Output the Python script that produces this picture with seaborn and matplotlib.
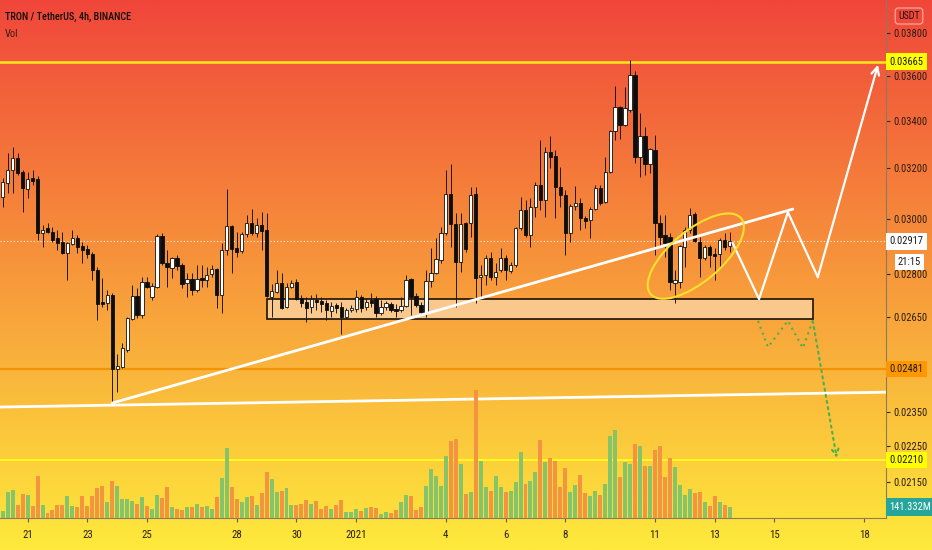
import numpy as np
import pandas as pd
import matplotlib
matplotlib.use("Agg")
import matplotlib.pyplot as plt
import seaborn as sns
from matplotlib import font_manager as fm
from matplotlib.patches import Ellipse, Rectangle
from matplotlib.transforms import ScaledTranslation
from matplotlib.ticker import NullLocator, NullFormatter

# ---------------- data (TRX/USDT, 4h candles) ----------------
start_time = "2020-12-20 04:00"

open_ = [0.03086, 0.03141, 0.03194, 0.03242, 0.03186, 0.03117, 0.03161, 0.03157, 0.02948, 0.02967,
         0.02951, 0.02929, 0.02915, 0.02874, 0.02907, 0.02929, 0.02900, 0.02889, 0.02871, 0.02813,
         0.02701, 0.02698, 0.02725, 0.02480, 0.02487, 0.02541, 0.02643, 0.02722, 0.02656, 0.02770,
         0.02718, 0.02753, 0.02937, 0.02838, 0.02820, 0.02856, 0.02831, 0.02767, 0.02781, 0.02742,
         0.02784, 0.02777, 0.02799, 0.02817, 0.02725, 0.02885, 0.02974, 0.02892, 0.02882, 0.02944,
         0.02986, 0.02948, 0.02978, 0.02959, 0.02718, 0.02735, 0.02767, 0.02684, 0.02753, 0.02770,
         0.02715, 0.02701, 0.02684, 0.02708, 0.02704, 0.02698, 0.02670, 0.02691, 0.02684, 0.02650,
         0.02673, 0.02677, 0.02718, 0.02684, 0.02708, 0.02711, 0.02663, 0.02684, 0.02694, 0.02677,
         0.02673, 0.02687, 0.02781, 0.02722, 0.02691, 0.02663, 0.02774, 0.02802, 0.02849, 0.02948,
         0.03097, 0.02982, 0.02842, 0.02986, 0.02986, 0.03097, 0.02788, 0.02795, 0.02856, 0.02788,
         0.02813, 0.02856, 0.02809, 0.02831, 0.02967, 0.03035, 0.02940, 0.03047, 0.03133, 0.03074,
         0.03268, 0.03251, 0.03125, 0.03094, 0.02948, 0.03051, 0.03063, 0.03005, 0.02997, 0.03039,
         0.03121, 0.03067, 0.03186, 0.03356, 0.03459, 0.03381, 0.03446, 0.03603, 0.03247, 0.03334,
         0.03218, 0.03276, 0.02986, 0.02940, 0.02933, 0.02767, 0.02770, 0.02896, 0.02959, 0.03020,
         0.02915, 0.02856, 0.02896, 0.02871, 0.02871, 0.02922, 0.02900]

high = [0.03161, 0.03263, 0.03288, 0.03263, 0.03194, 0.03186, 0.03194, 0.03169, 0.02978, 0.02986,
        0.02970, 0.02959, 0.02951, 0.02915, 0.02959, 0.02940, 0.02915, 0.02903, 0.02878, 0.02824,
        0.02784, 0.02742, 0.02732, 0.02528, 0.02564, 0.02650, 0.02760, 0.02749, 0.02788, 0.02788,
        0.02767, 0.02944, 0.02948, 0.02885, 0.02860, 0.02867, 0.02838, 0.02802, 0.02802, 0.02831,
        0.02831, 0.02824, 0.02831, 0.02820, 0.02911, 0.03117, 0.02978, 0.02951, 0.02951, 0.03016,
        0.03039, 0.03005, 0.03027, 0.03024, 0.02763, 0.02813, 0.02802, 0.02767, 0.02777, 0.02781,
        0.02725, 0.02718, 0.02725, 0.02728, 0.02718, 0.02708, 0.02701, 0.02698, 0.02701, 0.02680,
        0.02691, 0.02742, 0.02725, 0.02715, 0.02732, 0.02722, 0.02708, 0.02704, 0.02701, 0.02694,
        0.02718, 0.02795, 0.02784, 0.02732, 0.02701, 0.02813, 0.02892, 0.02929, 0.02970, 0.03194,
        0.03218, 0.03024, 0.03024, 0.02990, 0.03125, 0.03125, 0.02831, 0.02867, 0.02878, 0.02838,
        0.02892, 0.02867, 0.02842, 0.02970, 0.03086, 0.03074, 0.03082, 0.03145, 0.03317, 0.03288,
        0.03334, 0.03276, 0.03206, 0.03113, 0.03059, 0.03129, 0.03082, 0.03013, 0.03047, 0.03133,
        0.03133, 0.03247, 0.03360, 0.03553, 0.03464, 0.03549, 0.03672, 0.03621, 0.03433, 0.03373,
        0.03284, 0.03338, 0.03016, 0.03016, 0.02948, 0.02813, 0.02903, 0.02970, 0.03043, 0.03027,
        0.02933, 0.02903, 0.02903, 0.02892, 0.02929, 0.02948, 0.02951]

low = [0.03047, 0.03101, 0.03101, 0.03174, 0.03027, 0.03082, 0.03133, 0.02922, 0.02896, 0.02948,
       0.02915, 0.02885, 0.02870, 0.02777, 0.02903, 0.02874, 0.02838, 0.02856, 0.02777, 0.02640,
       0.02684, 0.02673, 0.02376, 0.02409, 0.02484, 0.02535, 0.02640, 0.02647, 0.02647, 0.02749,
       0.02708, 0.02749, 0.02831, 0.02753, 0.02784, 0.02813, 0.02749, 0.02718, 0.02725, 0.02735,
       0.02753, 0.02753, 0.02788, 0.02680, 0.02663, 0.02867, 0.02802, 0.02860, 0.02874, 0.02933,
       0.02940, 0.02933, 0.02885, 0.02718, 0.02650, 0.02732, 0.02677, 0.02680, 0.02749, 0.02708,
       0.02684, 0.02633, 0.02663, 0.02673, 0.02666, 0.02640, 0.02650, 0.02663, 0.02593, 0.02647,
       0.02666, 0.02666, 0.02666, 0.02673, 0.02684, 0.02650, 0.02656, 0.02673, 0.02666, 0.02650,
       0.02666, 0.02684, 0.02656, 0.02684, 0.02663, 0.02650, 0.02753, 0.02799, 0.02838, 0.02940,
       0.02896, 0.02684, 0.02806, 0.02878, 0.02933, 0.02698, 0.02718, 0.02760, 0.02777, 0.02760,
       0.02806, 0.02777, 0.02802, 0.02824, 0.02959, 0.02933, 0.02896, 0.03009, 0.03035, 0.03009,
       0.03202, 0.03005, 0.03047, 0.02867, 0.02915, 0.03035, 0.02959, 0.02967, 0.02929, 0.03035,
       0.03055, 0.03063, 0.03182, 0.03317, 0.03321, 0.03378, 0.03437, 0.03222, 0.03165, 0.03174,
       0.03182, 0.02867, 0.02896, 0.02860, 0.02742, 0.02698, 0.02749, 0.02824, 0.02948, 0.02915,
       0.02788, 0.02849, 0.02824, 0.02777, 0.02824, 0.02885, 0.02878]

close = [0.03145, 0.03194, 0.03242, 0.03182, 0.03121, 0.03157, 0.03149, 0.02948, 0.02959, 0.02951,
         0.02922, 0.02911, 0.02874, 0.02911, 0.02929, 0.02896, 0.02885, 0.02871, 0.02813, 0.02694,
         0.02694, 0.02725, 0.02480, 0.02490, 0.02548, 0.02647, 0.02722, 0.02656, 0.02770, 0.02753,
         0.02756, 0.02937, 0.02838, 0.02824, 0.02856, 0.02827, 0.02763, 0.02781, 0.02742, 0.02781,
         0.02777, 0.02795, 0.02817, 0.02725, 0.02885, 0.02974, 0.02889, 0.02878, 0.02944, 0.02986,
         0.02948, 0.02978, 0.02955, 0.02722, 0.02739, 0.02767, 0.02680, 0.02753, 0.02767, 0.02711,
         0.02698, 0.02680, 0.02711, 0.02701, 0.02694, 0.02673, 0.02687, 0.02680, 0.02650, 0.02673,
         0.02680, 0.02718, 0.02680, 0.02701, 0.02698, 0.02663, 0.02684, 0.02698, 0.02673, 0.02670,
         0.02687, 0.02777, 0.02718, 0.02691, 0.02666, 0.02774, 0.02802, 0.02853, 0.02948, 0.03097,
         0.02982, 0.02842, 0.02982, 0.02889, 0.03094, 0.02784, 0.02795, 0.02856, 0.02788, 0.02806,
         0.02856, 0.02813, 0.02831, 0.02967, 0.03035, 0.02940, 0.03047, 0.03133, 0.03074, 0.03268,
         0.03247, 0.03125, 0.03094, 0.02948, 0.03051, 0.03063, 0.03005, 0.02993, 0.03039, 0.03121,
         0.03063, 0.03186, 0.03356, 0.03459, 0.03381, 0.03455, 0.03603, 0.03247, 0.03334, 0.03218,
         0.03280, 0.02986, 0.02933, 0.02911, 0.02770, 0.02777, 0.02900, 0.02959, 0.03016, 0.02918,
         0.02856, 0.02896, 0.02867, 0.02864, 0.02922, 0.02896, 0.02917]

volume_m = [90, 334, 360, 167, 308, 296, 154, 540, 167, 64,
            103, 167, 167, 283, 154, 141, 283, 154, 283, 386,
            411, 206, 475, 411, 244, 244, 218, 180, 270, 154,
            116, 296, 257, 398, 141, 116, 103, 141, 141, 180,
            141, 154, 116, 270, 514, 900, 398, 244, 206, 270,
            283, 167, 321, 591, 501, 334, 347, 386, 167, 167,
            180, 231, 180, 218, 116, 154, 116, 167, 231, 77,
            77, 116, 90, 128, 141, 128, 51, 77, 64, 103,
            206, 296, 283, 103, 141, 411, 630, 540, 411, 797,
            989, 1015, 694, 308, 334, 1645, 732, 398, 347, 540,
            398, 334, 347, 463, 848, 437, 475, 591, 1002, 720,
            771, 732, 398, 643, 334, 424, 553, 321, 283, 347,
            296, 437, 1054, 1131, 527, 720, 694, 951, 925, 668,
            668, 874, 925, 527, 771, 655, 424, 296, 373, 321,
            334, 206, 154, 283, 206, 167, 141.332]

tick_dates = ["2020-12-21", "2020-12-23", "2020-12-25", "2020-12-28", "2020-12-30", "2021-01-01",
              "2021-01-04", "2021-01-06", "2021-01-08", "2021-01-11", "2021-01-13", "2021-01-15",
              "2021-01-18"]
tick_labels = ["21", "23", "25", "28", "30", "2021", "4", "6", "8", "11", "13", "15", "18"]
price_ticks = [0.03800, 0.03600, 0.03400, 0.03200, 0.03000, 0.02800, 0.02650, 0.02350, 0.02250, 0.02150]

level_top = 0.03665
level_mid = 0.02481
level_low = 0.02210
last_price = 0.02917
last_volume = 141.332

# drawings (x in 4h-bar units from start_time)
support_x = [-0.54, 177.4]
support_y = [0.02364, 0.02409]
trend_x = [22.0, 158.7]
trend_y = [0.02376, 0.03039]
box_x = [53.1, 162.7]
box_y = [0.02643, 0.02711]
zig_x = [146.6, 151.9, 157.7, 163.7, 175.8]
zig_y = [0.02911, 0.02711, 0.03027, 0.02788, 0.03650]
bear_x = [151.7, 153.7, 157.7, 160.7, 162.7, 167.5]
bear_y = [0.02637, 0.02551, 0.02637, 0.02548, 0.02637, 0.02216]
ellipse_center = (139.2, 0.02863)

# ---------------- fonts ----------------
def pick_font(cands):
    for f in cands:
        try:
            fm.findfont(fm.FontProperties(family=f), fallback_to_default=False)
            return f
        except Exception:
            pass
    return "DejaVu Sans"

FONT = pick_font(["Liberation Sans Narrow", "Roboto Condensed", "Roboto", "Liberation Sans"])
plt.rcParams["font.family"] = [FONT, "DejaVu Sans"]

# ---------------- frame ----------------
W, H = 932, 550
fig = plt.figure(figsize=(W / 100, H / 100), dpi=100)

# gradient background
bg = fig.add_axes([0, 0, 1, 1], zorder=-10)
top_c = np.array([240, 70, 58]) / 255
bot_c = np.array([254, 234, 60]) / 255
t = np.linspace(0, 1, 400)[:, None, None]
grad = top_c[None, None, :] * (1 - t) + bot_c[None, None, :] * t
bg.imshow(grad, aspect="auto", extent=[0, 1, 0, 1], interpolation="bilinear")
bg.axis("off")

plot_right = 886 / W
plot_bottom = (H - 518) / H
ax = fig.add_axes([0, plot_bottom, plot_right, 1 - plot_bottom])
ax.patch.set_visible(False)
axv = ax.twinx()
axv.patch.set_visible(False)

n = len(close)
t0 = pd.Timestamp(start_time)
times = t0 + pd.to_timedelta(np.arange(n) * 4, unit="h")
xs = ((times - t0) / pd.Timedelta(hours=4)).to_numpy().astype(float)
o = np.array(open_); c = np.array(close); hi = np.array(high); lo = np.array(low)
up = c >= o

# ---------------- volume (seaborn) ----------------
vdf = pd.DataFrame({"x": xs, "vol": volume_m, "dir": np.where(up, "up", "down")})
sns.barplot(data=vdf, x="x", y="vol", hue="dir", palette={"up": "#86c46a", "down": "#f39441"},
            native_scale=True, dodge=False, width=0.8, saturation=1, legend=False,
            errorbar=None, linewidth=0, ax=axv)
axv.set_ylim(0, 518 * 12.85)
axv.set_yticks([])
axv.set_ylabel("")
axv.set_xlabel("")
for s in axv.spines.values():
    s.set_visible(False)

# ---------------- candles ----------------
ax.set_yscale("log")
ax.vlines(xs, lo, hi, color="#1e1a16", lw=0.7, zorder=3)
body_bot = np.minimum(o, c)
body_h = np.maximum(np.abs(c - o), 0.000012)
ax.bar(xs[up], body_h[up], bottom=body_bot[up], width=0.66, color="white",
       edgecolor="#111111", linewidth=0.6, zorder=4)
ax.bar(xs[~up], body_h[~up], bottom=body_bot[~up], width=0.66, color="#0d0d0d",
       edgecolor="#0d0d0d", linewidth=0.6, zorder=4)

# ---------------- levels ----------------
ax.axhline(level_top, color="#ffe81a", lw=1.8, zorder=2)
ax.axhline(level_mid, color="#f59200", lw=1.6, zorder=2)
ax.axhline(level_low, color="#ffff1e", lw=1.3, zorder=2)
ax.axhline(last_price, color="white", lw=0.8, ls=(0, (1, 2)), alpha=0.9, zorder=2)

# ---------------- drawings ----------------
ax.plot(support_x, support_y, color="white", lw=2.0, zorder=5, solid_capstyle="round")
ax.plot(trend_x, trend_y, color="white", lw=2.0, zorder=5, solid_capstyle="round")
ax.add_patch(Rectangle((box_x[0], box_y[0]), box_x[1] - box_x[0], box_y[1] - box_y[0],
                       facecolor=(1, 1, 1, 0.42), edgecolor="#1a1208", lw=1.2, zorder=2))
ax.plot(zig_x[:-1], zig_y[:-1], color="white", lw=1.6, zorder=5)
ax.annotate("", xy=(zig_x[-1], zig_y[-1]), xytext=(zig_x[-2], zig_y[-2]),
            arrowprops=dict(arrowstyle="->", color="white", lw=1.6, mutation_scale=14,
                            shrinkA=0, shrinkB=0), zorder=5)
ax.plot(bear_x[:-1], bear_y[:-1], color="#4caf50", lw=1.5, ls=(0, (1, 2)), zorder=5)
ax.annotate("", xy=(bear_x[-1], bear_y[-1]), xytext=(bear_x[-2], bear_y[-2]),
            arrowprops=dict(arrowstyle="->", color="#4caf50", lw=1.5, ls=(0, (1, 2)),
                            mutation_scale=12, shrinkA=0, shrinkB=0), zorder=5)
ell_tr = fig.dpi_scale_trans + ScaledTranslation(ellipse_center[0], ellipse_center[1], ax.transData)
ax.add_patch(Ellipse((0, 0), 1.18, 0.51, angle=40, transform=ell_tr, fill=False,
                     edgecolor="#f7e12a", lw=1.5, zorder=6))

# ---------------- axes styling ----------------
ax.set_xlim(-0.54, 177.4)
ax.set_ylim(0.020535, 0.039625)
tick_pos = [(pd.Timestamp(d) - t0) / pd.Timedelta(hours=4) for d in tick_dates]
ax.set_xticks(tick_pos)
ax.set_xticklabels(tick_labels)
ax.yaxis.tick_right()
ax.yaxis.set_label_position("right")
ax.set_yticks(price_ticks)
ax.set_yticklabels([f"{p:.5f}" for p in price_ticks])
ax.yaxis.set_minor_locator(NullLocator())
ax.yaxis.set_minor_formatter(NullFormatter())
ax.tick_params(axis="y", which="major", length=3, width=0.8, color="#3b2a1a",
               labelcolor="#2a1d12", labelsize=7.6, pad=2)
ax.tick_params(axis="x", length=3, width=0.8, color="#6b5a40", labelcolor="#2a1d12",
               labelsize=7.8, pad=6)
for side in ["left", "top"]:
    ax.spines[side].set_visible(False)
for side in ["right", "bottom"]:
    ax.spines[side].set_color("#8c7a5c")
    ax.spines[side].set_linewidth(0.8)
ax.set_xlabel(""); ax.set_ylabel("")

# highlighted price-scale labels
ytr = ax.get_yaxis_transform()
lab_kw = dict(ha="left", va="center", fontsize=7.6, zorder=10, clip_on=False)
ax.text(1.004, level_top, f"{level_top:.5f}", transform=ytr, color="#1a1a1a",
        bbox=dict(boxstyle="square,pad=0.3", fc="#ffff00", ec="none"), **lab_kw)
ax.text(1.004, last_price, f"{last_price:.5f}", transform=ytr, color="#1a1a1a",
        bbox=dict(boxstyle="square,pad=0.3", fc="white", ec="none"), **lab_kw)
ax.annotate("21:15", xy=(1.004, last_price), xycoords=ytr, xytext=(6, -15),
            textcoords="offset points", ha="left", va="center", fontsize=7.6, color="#1a1a1a",
            bbox=dict(boxstyle="square,pad=0.3", fc="white", ec="none"), zorder=10,
            annotation_clip=False)
ax.text(1.004, level_mid, f"{level_mid:.5f}", transform=ytr, color="#1a1a1a",
        bbox=dict(boxstyle="square,pad=0.3", fc="#ff9800", ec="none"), **lab_kw)
ax.text(1.004, level_low, f"{level_low:.5f}", transform=ytr, color="#1a1a1a",
        bbox=dict(boxstyle="square,pad=0.3", fc="#ffff00", ec="none"), **lab_kw)
axv.text(1.004, last_volume, f"{last_volume:.3f}M", transform=axv.get_yaxis_transform(),
         color="white", ha="left", va="center", fontsize=7.6, zorder=10, clip_on=False,
         bbox=dict(boxstyle="square,pad=0.35", fc="#26a69a", ec="none"))

# header texts
fig.text(5 / W, 1 - 17 / H, "TRON / TetherUS, 4h, BINANCE", ha="left", va="center",
         fontsize=7.4, color="#150f0c", fontweight="medium")
fig.text(5 / W, 1 - 34 / H, "Vol", ha="left", va="center", fontsize=7.6, color="#3a1a10")
fig.text(909 / W, 1 - 16 / H, "USDT", ha="center", va="center", fontsize=7.2, color="#2a0c08",
         bbox=dict(boxstyle="round,pad=0.3,rounding_size=0.3", fc="#ee4b3c", ec="#f8b0a6", lw=0.8))

fig.savefig("out.png", dpi=100)
